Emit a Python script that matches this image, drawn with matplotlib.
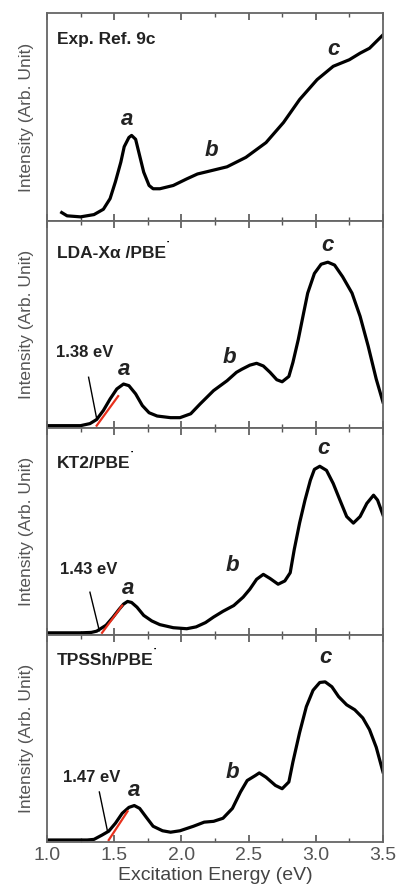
import matplotlib
matplotlib.use("Agg")
import matplotlib.pyplot as plt
from matplotlib.ticker import MultipleLocator

plt.rcParams['font.family'] = ['Liberation Sans', 'DejaVu Sans']

# spectra (energy in eV, intensity as fraction of panel height)
exp_e = [1.11, 1.15, 1.25, 1.35, 1.42, 1.47, 1.51, 1.55, 1.575, 1.61, 1.63, 1.66, 1.69, 1.72,
         1.76, 1.79, 1.84, 1.94, 2.04, 2.12, 2.19, 2.34, 2.48, 2.63, 2.76, 2.88, 3.01, 3.13,
         3.25, 3.33, 3.40, 3.5]
exp_i = [0.029, 0.013, 0.008, 0.019, 0.045, 0.097, 0.18, 0.275, 0.35, 0.395, 0.405, 0.386, 0.306,
         0.226, 0.161, 0.145, 0.145, 0.161, 0.193, 0.217, 0.228, 0.252, 0.298, 0.37, 0.468, 0.58,
         0.677, 0.742, 0.774, 0.806, 0.83, 0.895]

lda_e = [1.0, 1.25, 1.32, 1.37, 1.42, 1.47, 1.52, 1.57, 1.61, 1.66, 1.71, 1.76, 1.82, 1.92, 1.99,
         2.07, 2.14, 2.24, 2.34, 2.41, 2.45, 2.51, 2.56, 2.61, 2.66, 2.71, 2.75, 2.80, 2.83, 2.87,
         2.91, 2.94, 2.99, 3.04, 3.09, 3.14, 3.20, 3.27, 3.33, 3.39, 3.45, 3.5]
lda_i = [0.0, 0.0, 0.01, 0.03, 0.074, 0.13, 0.179, 0.203, 0.195, 0.155, 0.098, 0.063, 0.047, 0.039,
         0.039, 0.058, 0.106, 0.171, 0.219, 0.26, 0.275, 0.295, 0.304, 0.291, 0.26, 0.224, 0.214,
         0.24, 0.308, 0.42, 0.55, 0.646, 0.742, 0.787, 0.797, 0.783, 0.726, 0.646, 0.533, 0.388,
         0.227, 0.115]

kt2_e = [1.0, 1.25, 1.33, 1.37, 1.44, 1.49, 1.54, 1.57, 1.60, 1.63, 1.67, 1.72, 1.78, 1.84, 1.94,
         2.04, 2.11, 2.18, 2.24, 2.31, 2.39, 2.46, 2.51, 2.56, 2.61, 2.66, 2.72, 2.77, 2.81, 2.84,
         2.88, 2.92, 2.96, 2.99, 3.03, 3.08, 3.13, 3.18, 3.23, 3.28, 3.33, 3.38, 3.43, 3.46, 3.5]
kt2_i = [0.0, 0.0, 0.002, 0.008, 0.037, 0.075, 0.117, 0.14, 0.153, 0.148, 0.125, 0.085, 0.058, 0.04,
         0.025, 0.02, 0.029, 0.05, 0.077, 0.105, 0.133, 0.174, 0.213, 0.261, 0.285, 0.265, 0.237,
         0.253, 0.293, 0.406, 0.536, 0.647, 0.744, 0.797, 0.812, 0.792, 0.728, 0.647, 0.567, 0.535,
         0.567, 0.631, 0.671, 0.647, 0.575]

tpss_e = [1.0, 1.30, 1.35, 1.41, 1.46, 1.51, 1.56, 1.61, 1.65, 1.69, 1.74, 1.79, 1.86, 1.92, 1.99,
          2.09, 2.17, 2.24, 2.31, 2.38, 2.44, 2.49, 2.55, 2.58, 2.63, 2.70, 2.75, 2.80, 2.83, 2.88,
          2.93, 2.98, 3.03, 3.07, 3.12, 3.17, 3.23, 3.29, 3.35, 3.40, 3.45, 3.5]
tpss_i = [0.0, 0.0, 0.003, 0.024, 0.043, 0.082, 0.13, 0.159, 0.168, 0.154, 0.11, 0.067, 0.045, 0.038,
          0.045, 0.067, 0.087, 0.091, 0.106, 0.154, 0.234, 0.29, 0.314, 0.327, 0.306, 0.266, 0.25,
          0.283, 0.38, 0.524, 0.65, 0.73, 0.768, 0.771, 0.747, 0.699, 0.659, 0.635, 0.595, 0.538,
          0.452, 0.332]

energies = [exp_e, lda_e, kt2_e, tpss_e]
intensities = [exp_i, lda_i, kt2_i, tpss_i]
titles = ["Exp. Ref. 9c", "LDA-X\u03b1 /PBE", "KT2/PBE", "TPSSh/PBE"]
onset_labels = [None, "1.38 eV", "1.43 eV", "1.47 eV"]

# red tangent lines at the absorption onset
tangent_e = [None, [1.37, 1.53], [1.41, 1.56], [1.46, 1.60]]
tangent_i = [None, [0.0, 0.144], [0.0, 0.133], [0.0, 0.14]]

fig, axes = plt.subplots(4, 1, figsize=(4.01, 8.92), dpi=100, sharex=True)
fig.subplots_adjust(left=0.117, right=0.955, bottom=0.056, top=0.985, hspace=0)

gray = "#555555"

title_y = [0.874, 0.84, 0.825, 0.875]
abc_pos = [
    [(1.60, 0.484), (2.225, 0.33), (3.13, 0.823)],
    [(1.575, 0.275), (2.36, 0.33), (3.09, 0.88)],
    [(1.605, 0.214), (2.38, 0.326), (3.06, 0.897)],
    [(1.65, 0.242), (2.38, 0.33), (3.07, 0.89)],
]
onset_text = [None, (1.28, 0.357), (1.31, 0.31), (1.33, 0.307)]
pointer = [None, ((1.31, 0.236), (1.37, 0.035)), ((1.32, 0.198), (1.39, 0.01)),
           ((1.39, 0.234), (1.45, 0.045))]

for k, ax in enumerate(axes):
    ax.plot(energies[k], intensities[k], color="black", lw=2.3, solid_joinstyle="round")
    if tangent_e[k] is not None:
        ax.plot(tangent_e[k], tangent_i[k], color="#e8301c", lw=1.6)
        ax.text(onset_text[k][0], onset_text[k][1], onset_labels[k], fontsize=12,
                fontweight="bold", ha="center", va="center", color="#222222")
        (x0, y0), (x1, y1) = pointer[k]
        ax.plot([x0, x1], [y0, y1], color="black", lw=1.0)
    t = ax.text(1.075, title_y[k], titles[k], fontsize=12.5, fontweight="bold", va="center",
                color="#222222")
    if k > 0:
        ax.annotate("\u02d9", xy=(1, 1), xycoords=t, xytext=(-0.5, 4), textcoords="offset points",
                    fontsize=9, fontweight="bold", ha="left", va="top")
    for lab, (x, y) in zip("abc", abc_pos[k]):
        ax.text(x, y, lab, fontsize=16, fontweight="bold", fontstyle="italic",
                ha="center", va="center", color="#222222")
    ax.set_xlim(1.0, 3.5)
    ax.set_ylim(-0.01, 1.0)
    ax.set_yticks([])
    ax.set_ylabel("Intensity (Arb. Unit)", fontsize=12.5, color=gray, labelpad=9)
    ax.xaxis.set_major_locator(MultipleLocator(0.5))
    ax.xaxis.set_minor_locator(MultipleLocator(0.25))
    ax.tick_params(axis="x", which="both", direction="in", top=True, bottom=True,
                   colors=gray, labelsize=14)
    ax.tick_params(axis="x", which="major", length=5, width=1.2)
    ax.tick_params(axis="x", which="minor", length=3, width=1.0)
    for s in ax.spines.values():
        s.set_color("#666666")
        s.set_linewidth(1.3)

axes[-1].xaxis.set_major_formatter(plt.FormatStrFormatter("%.1f"))
axes[-1].set_xlabel("Excitation Energy (eV)", fontsize=14, color="#444444", labelpad=2)

fig.savefig("out.png", dpi=100)
